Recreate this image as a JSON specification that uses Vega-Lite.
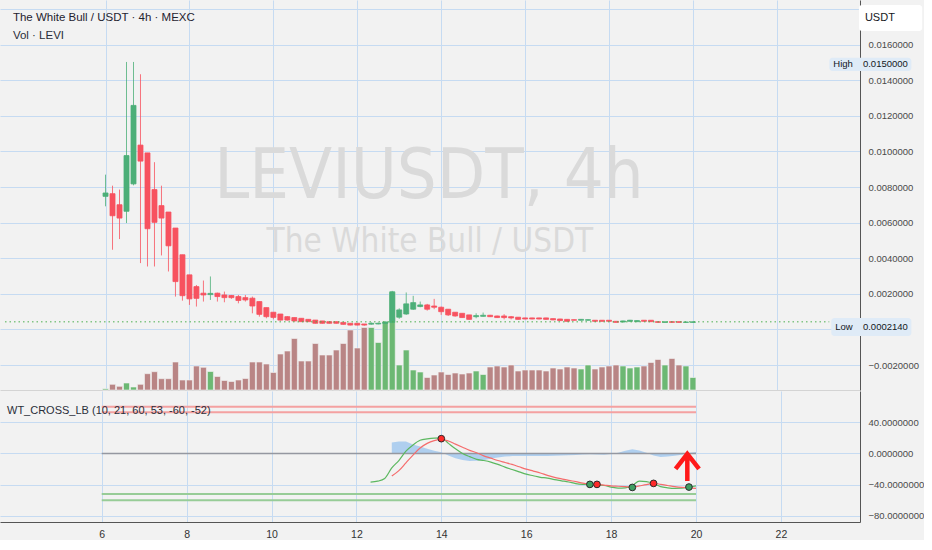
{
  "$schema": "https://vega.github.io/schema/vega-lite/v6.json",
  "padding": 0,
  "spacing": 0,
  "background": "#f2f2f2",
  "datasets": {
    "candles": [
      {"t":6,"o":0.00748,"h":0.0087,"l":0.00692,"c":0.00767,"v":1.2,"d":"up"},
      {"t":6.1667,"o":0.00763,"h":0.00808,"l":0.00448,"c":0.00639,"v":5.7,"d":"down"},
      {"t":6.3333,"o":0.00701,"h":0.00786,"l":0.00508,"c":0.00626,"v":3.7,"d":"down"},
      {"t":6.5,"o":0.00664,"h":0.01503,"l":0.00598,"c":0.00977,"v":7,"d":"up"},
      {"t":6.6667,"o":0.00818,"h":0.01503,"l":0.0081,"c":0.01259,"v":3,"d":"up"},
      {"t":6.8333,"o":0.01036,"h":0.01434,"l":0.00373,"c":0.00946,"v":5.7,"d":"down"},
      {"t":7,"o":0.00992,"h":0.00992,"l":0.00354,"c":0.00566,"v":16.3,"d":"down"},
      {"t":7.1667,"o":0.00786,"h":0.0094,"l":0.00354,"c":0.00602,"v":18.3,"d":"down"},
      {"t":7.3333,"o":0.00696,"h":0.00808,"l":0.00416,"c":0.00626,"v":11.3,"d":"down"},
      {"t":7.5,"o":0.0066,"h":0.0066,"l":0.00326,"c":0.0047,"v":11.3,"d":"down"},
      {"t":7.6667,"o":0.0057,"h":0.0057,"l":0.00185,"c":0.00269,"v":28,"d":"down"},
      {"t":7.8333,"o":0.0042,"h":0.0042,"l":0.00162,"c":0.0019,"v":10,"d":"down"},
      {"t":8,"o":0.00307,"h":0.00307,"l":0.00138,"c":0.00172,"v":10,"d":"down"},
      {"t":8.1667,"o":0.00241,"h":0.0025,"l":0.00129,"c":0.00175,"v":24,"d":"down"},
      {"t":8.3333,"o":0.00204,"h":0.00275,"l":0.00157,"c":0.00194,"v":22.7,"d":"down"},
      {"t":8.5,"o":0.00196,"h":0.00298,"l":0.00166,"c":0.00203,"v":18.5,"d":"up"},
      {"t":8.6667,"o":0.00204,"h":0.00207,"l":0.00157,"c":0.00185,"v":13.5,"d":"down"},
      {"t":8.8333,"o":0.00194,"h":0.00213,"l":0.00153,"c":0.00179,"v":9.5,"d":"down"},
      {"t":9,"o":0.00191,"h":0.00194,"l":0.00172,"c":0.00179,"v":8.5,"d":"down"},
      {"t":9.1667,"o":0.00185,"h":0.00194,"l":0.00147,"c":0.00163,"v":10,"d":"down"},
      {"t":9.3333,"o":0.00179,"h":0.00194,"l":0.00157,"c":0.00166,"v":11.5,"d":"down"},
      {"t":9.5,"o":0.00176,"h":0.00185,"l":0.00091,"c":0.00132,"v":28,"d":"down"},
      {"t":9.6667,"o":0.00157,"h":0.00157,"l":0.00072,"c":0.00085,"v":28,"d":"down"},
      {"t":9.8333,"o":0.00123,"h":0.00123,"l":0.00063,"c":0.00072,"v":26,"d":"down"},
      {"t":10,"o":0.00097,"h":0.00097,"l":0.00057,"c":0.00068,"v":17.5,"d":"down"},
      {"t":10.1667,"o":0.00087,"h":0.00087,"l":0.0005,"c":0.00053,"v":36,"d":"down"},
      {"t":10.3333,"o":0.00072,"h":0.00075,"l":0.0005,"c":0.00053,"v":39,"d":"down"},
      {"t":10.5,"o":0.00067,"h":0.00067,"l":0.00045,"c":0.00048,"v":51.5,"d":"down"},
      {"t":10.6667,"o":0.00063,"h":0.00063,"l":0.00042,"c":0.00044,"v":29,"d":"down"},
      {"t":10.8333,"o":0.00057,"h":0.00057,"l":0.00042,"c":0.00044,"v":29,"d":"down"},
      {"t":11,"o":0.00053,"h":0.00053,"l":0.00033,"c":0.00035,"v":46.5,"d":"down"},
      {"t":11.1667,"o":0.00048,"h":0.00048,"l":0.00033,"c":0.00035,"v":35,"d":"down"},
      {"t":11.3333,"o":0.00044,"h":0.00044,"l":0.00033,"c":0.00035,"v":35,"d":"down"},
      {"t":11.5,"o":0.00044,"h":0.00044,"l":0.00033,"c":0.00035,"v":40,"d":"down"},
      {"t":11.6667,"o":0.0004,"h":0.0004,"l":0.00027,"c":0.00029,"v":46.5,"d":"down"},
      {"t":11.8333,"o":0.00035,"h":0.00035,"l":0.00023,"c":0.00025,"v":60,"d":"down"},
      {"t":12,"o":0.00035,"h":0.00035,"l":0.00023,"c":0.00025,"v":42,"d":"down"},
      {"t":12.1667,"o":0.00031,"h":0.00031,"l":0.000214,"c":0.00025,"v":62.5,"d":"down"},
      {"t":12.3333,"o":0.0003,"h":0.0004,"l":0.00027,"c":0.00035,"v":62.5,"d":"up"},
      {"t":12.5,"o":0.00031,"h":0.00039,"l":0.00029,"c":0.00035,"v":47.5,"d":"up"},
      {"t":12.6667,"o":0.00034,"h":0.00045,"l":0.00032,"c":0.00042,"v":68.5,"d":"up"},
      {"t":12.8333,"o":0.0004,"h":0.00217,"l":0.00038,"c":0.00212,"v":97.5,"d":"up"},
      {"t":13,"o":0.00069,"h":0.00119,"l":0.0006,"c":0.0011,"v":25,"d":"up"},
      {"t":13.1667,"o":0.00087,"h":0.00208,"l":0.00082,"c":0.00144,"v":40,"d":"up"},
      {"t":13.3333,"o":0.00114,"h":0.00189,"l":0.0011,"c":0.00151,"v":20,"d":"up"},
      {"t":13.5,"o":0.00129,"h":0.00157,"l":0.00125,"c":0.00138,"v":18,"d":"up"},
      {"t":13.6667,"o":0.00138,"h":0.00144,"l":0.00106,"c":0.00114,"v":12.5,"d":"down"},
      {"t":13.8333,"o":0.00132,"h":0.00172,"l":0.00114,"c":0.00125,"v":15,"d":"down"},
      {"t":14,"o":0.00125,"h":0.00129,"l":0.00082,"c":0.001,"v":18,"d":"down"},
      {"t":14.1667,"o":0.00114,"h":0.00114,"l":0.00076,"c":0.00082,"v":15.5,"d":"down"},
      {"t":14.3333,"o":0.00097,"h":0.00097,"l":0.00072,"c":0.00076,"v":17,"d":"down"},
      {"t":14.5,"o":0.00091,"h":0.00091,"l":0.00065,"c":0.00067,"v":16,"d":"down"},
      {"t":14.6667,"o":0.00082,"h":0.00082,"l":0.00055,"c":0.00057,"v":17,"d":"down"},
      {"t":14.8333,"o":0.00072,"h":0.00091,"l":0.00063,"c":0.00078,"v":19,"d":"up"},
      {"t":15,"o":0.00074,"h":0.00095,"l":0.00072,"c":0.0008,"v":15.5,"d":"up"},
      {"t":15.1667,"o":0.0008,"h":0.00082,"l":0.0007,"c":0.00072,"v":23,"d":"down"},
      {"t":15.3333,"o":0.00076,"h":0.00078,"l":0.00065,"c":0.00067,"v":24,"d":"down"},
      {"t":15.5,"o":0.00076,"h":0.00086,"l":0.00057,"c":0.00067,"v":23,"d":"down"},
      {"t":15.6667,"o":0.00072,"h":0.00076,"l":0.00057,"c":0.00065,"v":25,"d":"down"},
      {"t":15.8333,"o":0.00069,"h":0.00069,"l":0.00055,"c":0.00057,"v":19,"d":"down"},
      {"t":16,"o":0.00065,"h":0.00066,"l":0.00057,"c":0.00059,"v":20,"d":"down"},
      {"t":16.1667,"o":0.00065,"h":0.00066,"l":0.00057,"c":0.00059,"v":20,"d":"down"},
      {"t":16.3333,"o":0.00065,"h":0.00066,"l":0.00057,"c":0.00059,"v":20,"d":"down"},
      {"t":16.5,"o":0.00065,"h":0.00066,"l":0.00055,"c":0.00057,"v":19,"d":"down"},
      {"t":16.6667,"o":0.00061,"h":0.00062,"l":0.00052,"c":0.00054,"v":22,"d":"down"},
      {"t":16.8333,"o":0.00059,"h":0.0006,"l":0.00048,"c":0.0005,"v":21,"d":"down"},
      {"t":17,"o":0.00057,"h":0.00058,"l":0.00044,"c":0.00046,"v":23,"d":"down"},
      {"t":17.1667,"o":0.00055,"h":0.00057,"l":0.0005,"c":0.00052,"v":22,"d":"down"},
      {"t":17.3333,"o":0.00052,"h":0.00059,"l":0.0005,"c":0.00057,"v":21,"d":"up"},
      {"t":17.5,"o":0.00052,"h":0.00057,"l":0.0005,"c":0.00055,"v":25,"d":"up"},
      {"t":17.6667,"o":0.00052,"h":0.00053,"l":0.00044,"c":0.00046,"v":21,"d":"down"},
      {"t":17.8333,"o":0.00052,"h":0.00053,"l":0.00044,"c":0.00046,"v":23,"d":"down"},
      {"t":18,"o":0.00052,"h":0.00053,"l":0.00044,"c":0.00046,"v":24,"d":"down"},
      {"t":18.1667,"o":0.00046,"h":0.00047,"l":0.00038,"c":0.0004,"v":25,"d":"down"},
      {"t":18.3333,"o":0.00042,"h":0.0005,"l":0.0004,"c":0.00048,"v":24,"d":"up"},
      {"t":18.5,"o":0.00046,"h":0.00054,"l":0.00044,"c":0.00052,"v":22,"d":"up"},
      {"t":18.6667,"o":0.00044,"h":0.00052,"l":0.00042,"c":0.0005,"v":23,"d":"up"},
      {"t":18.8333,"o":0.00052,"h":0.00053,"l":0.00044,"c":0.00046,"v":24,"d":"down"},
      {"t":19,"o":0.00052,"h":0.00053,"l":0.00042,"c":0.00044,"v":27.5,"d":"down"},
      {"t":19.1667,"o":0.00044,"h":0.00045,"l":0.00038,"c":0.0004,"v":30.5,"d":"down"},
      {"t":19.3333,"o":0.0004,"h":0.00045,"l":0.00038,"c":0.00043,"v":25,"d":"up"},
      {"t":19.5,"o":0.00044,"h":0.00045,"l":0.00038,"c":0.0004,"v":31.5,"d":"down"},
      {"t":19.6667,"o":0.00044,"h":0.00045,"l":0.00038,"c":0.0004,"v":25,"d":"down"},
      {"t":19.8333,"o":0.0004,"h":0.00044,"l":0.00038,"c":0.00042,"v":24,"d":"up"},
      {"t":20,"o":0.0004,"h":0.00045,"l":0.00038,"c":0.00043,"v":12.5,"d":"up"}
    ],
    "osc": [
      {"t":12.3333,"w1":-36.6},
      {"t":12.5,"w1":-35.5},
      {"t":12.6667,"w1":-32},
      {"t":12.8333,"w1":-18.5,"w2":-28.9,"a":14},
      {"t":13,"w1":-9,"w2":-22,"a":15.5},
      {"t":13.1667,"w1":3,"w2":-12,"a":15.5},
      {"t":13.3333,"w1":11,"w2":-2,"a":11.5},
      {"t":13.5,"w1":16.9,"w2":7,"a":9},
      {"t":13.6667,"w1":18.8,"w2":13,"a":6},
      {"t":13.8333,"w1":19.8,"w2":16.5,"a":3.5},
      {"t":14,"w1":20,"w2":18.1,"a":1.5},
      {"t":14.1667,"w1":13,"w2":16,"a":-2.5},
      {"t":14.3333,"w1":6,"w2":12,"a":-6},
      {"t":14.5,"w1":0,"w2":8,"a":-8.4},
      {"t":14.6667,"w1":-4,"w2":4,"a":-9.6},
      {"t":14.8333,"w1":-7.5,"w2":1,"a":-9.4},
      {"t":15,"w1":-9,"w2":-3,"a":-8.5},
      {"t":15.1667,"w1":-11,"w2":-6,"a":-6.5},
      {"t":15.3333,"w1":-14,"w2":-9,"a":-5},
      {"t":15.5,"w1":-17.5,"w2":-11.5,"a":-4},
      {"t":15.6667,"w1":-20.5,"w2":-14,"a":-3.3},
      {"t":15.8333,"w1":-23.5,"w2":-17,"a":-3.2},
      {"t":16,"w1":-26.5,"w2":-20,"a":-3.2},
      {"t":16.1667,"w1":-28.5,"w2":-22.5,"a":-3.2},
      {"t":16.3333,"w1":-30.5,"w2":-25,"a":-3.2},
      {"t":16.5,"w1":-31.5,"w2":-28,"a":-3.2},
      {"t":16.6667,"w1":-33.5,"w2":-30.5,"a":-3},
      {"t":16.8333,"w1":-35,"w2":-32.5,"a":-2.6},
      {"t":17,"w1":-36.5,"w2":-34.5,"a":-2.4},
      {"t":17.1667,"w1":-38.5,"w2":-36,"a":-2},
      {"t":17.3333,"w1":-39.5,"w2":-38,"a":-1.4},
      {"t":17.5,"w1":-39.8,"w2":-39.3,"a":-1},
      {"t":17.6667,"w1":-40.5,"w2":-39.6,"a":-1.2},
      {"t":17.8333,"w1":-41,"w2":-40.5,"a":-1.5},
      {"t":18,"w1":-43,"w2":-41.5,"a":-0.5},
      {"t":18.1667,"w1":-44.5,"w2":-42,"a":1},
      {"t":18.3333,"w1":-44,"w2":-42.5,"a":3.5},
      {"t":18.5,"w1":-41,"w2":-43,"a":5.5},
      {"t":18.6667,"w1":-35.5,"w2":-41.5,"a":4},
      {"t":18.8333,"w1":-36,"w2":-40,"a":1},
      {"t":19,"w1":-38.5,"w2":-38.3,"a":-2.5},
      {"t":19.1667,"w1":-42.5,"w2":-39.5,"a":-4.5},
      {"t":19.3333,"w1":-44,"w2":-41,"a":-4},
      {"t":19.5,"w1":-44.7,"w2":-42.5,"a":-3},
      {"t":19.6667,"w1":-44.5,"w2":-43.5,"a":-1.5},
      {"t":19.8333,"w1":-43,"w2":-44,"a":0.5},
      {"t":20,"w1":-41.5,"w2":-44.7,"a":2}
    ]
  },
  "vconcat": [
    {
      "width": 860,
      "height": 390,
      "layer": [
        {
          "data": {"name": "candles"},
          "mark": {"type": "bar", "size": 6, "stroke": "#f4f4f4", "strokeWidth": 0.6},
          "encoding": {
            "x": {"field": "t", "type": "quantitative", "scale": {"domain": [3.604, 23.863], "nice": false, "zero": false},
                  "axis": {"values": [6,8,10,12,14,16,18,20,22], "tickCount": 30, "labels": false, "grid": true, "domain": true, "domainColor": "#d4d4d4"}},
            "y": {"field": "v", "type": "quantitative", "scale": {"domain": [0, 390], "nice": false}, "axis": null},
            "fill": {"condition": {"test": "datum.d == 'up'", "value": "#6cb873"}, "value": "#b98585"}
          }
        },
        {
          "layer": [
            {
              "data": {"name": "candles"},
              "mark": {"type": "rule", "strokeWidth": 1, "opacity": 0.8},
              "encoding": {
                "x": {"field": "t", "type": "quantitative", "scale": {"domain": [3.604, 23.863], "nice": false, "zero": false}},
                "y": {"field": "l", "type": "quantitative", "scale": {"domain": [-0.003399, 0.018511], "nice": false, "zero": false},
                      "axis": {"orient": "right", "values": [-0.002,0,0.002,0.004,0.006,0.008,0.01,0.012,0.014,0.016,0.018], "tickCount": 30,
                               "labelExpr": "datum.value > 0.017 || abs(datum.value) < 0.0001 ? '' : format(datum.value, '.7f')",
                               "grid": true, "domain": true, "labelOverlap": false, "labelFlush": false}},
                "y2": {"field": "h"},
                "stroke": {"condition": {"test": "datum.d == 'up'", "value": "#4caf78"}, "value": "#f7525f"}
              }
            },
            {
              "data": {"name": "candles"},
              "mark": {"type": "bar", "size": 5, "strokeWidth": 0.8},
              "encoding": {
                "x": {"field": "t", "type": "quantitative", "scale": {"domain": [3.604, 23.863], "nice": false, "zero": false}},
                "y": {"field": "o", "type": "quantitative", "scale": {"domain": [-0.003399, 0.018511], "nice": false, "zero": false}},
                "y2": {"field": "c"},
                "fill": {"condition": {"test": "datum.d == 'up'", "value": "#4caf78"}, "value": "#f7525f"},
                "stroke": {"condition": {"test": "datum.d == 'up'", "value": "#4caf78"}, "value": "#f7525f"}
              }
            },
            {
              "data": {"values": [{"t1": 3.604, "t2": 23.25, "p": 0.00043}]},
              "mark": {"type": "rule", "stroke": "#4caf50", "strokeDash": [1.5, 3], "strokeWidth": 1},
              "encoding": {
                "x": {"field": "t1", "type": "quantitative", "scale": {"domain": [3.604, 23.863], "nice": false, "zero": false}},
                "x2": {"field": "t2"},
                "y": {"field": "p", "type": "quantitative", "scale": {"domain": [-0.003399, 0.018511], "nice": false, "zero": false}}
              }
            },
            {
              "data": {"values": [{"t": 13.71, "p": 0.007388, "txt": "LEVIUSDT, 4h"}]},
              "mark": {"type": "text", "align": "center", "baseline": "alphabetic", "fontSize": 70, "font": "Liberation Sans Narrow, DejaVu Sans Condensed, Liberation Sans", "color": "#dadada"},
              "encoding": {
                "x": {"field": "t", "type": "quantitative"},
                "y": {"field": "p", "type": "quantitative"},
                "text": {"field": "txt"}
              }
            },
            {
              "data": {"values": [{"t": 13.73, "p": 0.004354, "txt": "The White Bull / USDT"}]},
              "mark": {"type": "text", "align": "center", "baseline": "alphabetic", "fontSize": 33, "font": "Liberation Sans Narrow, DejaVu Sans Condensed, Liberation Sans", "color": "#dadada"},
              "encoding": {
                "x": {"field": "t", "type": "quantitative"},
                "y": {"field": "p", "type": "quantitative"},
                "text": {"field": "txt"}
              }
            },
            {
              "data": {"values": [{"t": 3.792, "p": 0.017331, "txt": "The White Bull / USDT · 4h · MEXC"}]},
              "mark": {"type": "text", "align": "left", "baseline": "alphabetic", "fontSize": 11.5, "fontWeight": 500, "color": "#1f2330"},
              "encoding": {
                "x": {"field": "t", "type": "quantitative"},
                "y": {"field": "p", "type": "quantitative"},
                "text": {"field": "txt"}
              }
            },
            {
              "data": {"values": [{"t": 3.792, "p": 0.016292, "txt": "Vol · LEVI"}]},
              "mark": {"type": "text", "align": "left", "baseline": "alphabetic", "fontSize": 11.5, "color": "#2a2e39"},
              "encoding": {
                "x": {"field": "t", "type": "quantitative"},
                "y": {"field": "p", "type": "quantitative"},
                "text": {"field": "txt"}
              }
            },
            {
              "data": {"values": [
                {"t1": 23.957, "t2": 25.465, "p1": 0.01677, "p2": 0.01823, "k": "usdt"},
                {"t1": 23.251, "t2": 25.206, "p1": 0.014522, "p2": 0.01527, "k": "hl"},
                {"t1": 23.298, "t2": 25.206, "p1": -0.000365, "p2": 0.000646, "k": "hl"}
              ]},
              "mark": {"type": "rect", "cornerRadius": 3},
              "encoding": {
                "x": {"field": "t1", "type": "quantitative"},
                "x2": {"field": "t2"},
                "y": {"field": "p1", "type": "quantitative"},
                "y2": {"field": "p2"},
                "fill": {"condition": {"test": "datum.k == 'usdt'", "value": "#ffffff"}, "value": "#dfebf7"}
              }
            },
            {
              "data": {"values": [
                {"t": 24.099, "p": 0.0175, "txt": "USDT"}
              ]},
              "mark": {"type": "text", "align": "left", "baseline": "middle", "fontSize": 11, "color": "#131722"},
              "encoding": {
                "x": {"field": "t", "type": "quantitative"},
                "y": {"field": "p", "type": "quantitative"},
                "text": {"field": "txt"}
              }
            },
            {
              "data": {"values": [
                {"t": 23.345, "p": 0.014888, "txt": "High"},
                {"t": 23.392, "p": 0.00014, "txt": "Low"},
                {"t": 24.052, "p": 0.014888, "txt": "0.0150000"},
                {"t": 24.052, "p": 0.00014, "txt": "0.0002140"}
              ]},
              "mark": {"type": "text", "align": "left", "baseline": "middle", "fontSize": 9.5, "color": "#131722"},
              "encoding": {
                "x": {"field": "t", "type": "quantitative"},
                "y": {"field": "p", "type": "quantitative"},
                "text": {"field": "txt"}
              }
            }
          ]
        }
      ],
      "resolve": {"scale": {"y": "independent"}, "axis": {"y": "independent"}}
    },
    {
      "width": 860,
      "height": 131,
      "layer": [
        {
          "data": {"name": "osc"},
          "mark": {"type": "area", "color": "#a3c9ef", "opacity": 0.85},
          "encoding": {
            "x": {"field": "t", "type": "quantitative", "scale": {"domain": [3.604, 23.863], "nice": false, "zero": false},
                  "axis": {"values": [6,8,10,12,14,16,18,20,22], "tickCount": 30, "format": "d", "grid": true, "labelPadding": 7, "labelFontSize": 10.5, "labelColor": "#333333", "labelFlush": false}},
            "y": {"field": "a", "type": "quantitative", "scale": {"domain": [-87.8, 80.1], "nice": false, "zero": false},
                  "axis": {"orient": "right", "values": [-80,-40,0,40], "tickCount": 30, "format": ".7f", "grid": true, "labelFlush": false, "labelOverlap": false}},
            "y2": {"datum": 0}
          }
        },
        {
          "data": {"values": [{"t1": 6, "t2": 20, "lv": 0}]},
          "mark": {"type": "rule", "stroke": "#9598a1", "strokeWidth": 1.5},
          "encoding": {
            "x": {"field": "t1", "type": "quantitative"},
            "x2": {"field": "t2"},
            "y": {"field": "lv", "type": "quantitative"}
          }
        },
        {
          "data": {"values": [{"t1": 6, "t2": 20, "lv": 60}, {"t1": 6, "t2": 20, "lv": 53}]},
          "mark": {"type": "rule", "stroke": "#f4a1a1", "strokeWidth": 2},
          "encoding": {
            "x": {"field": "t1", "type": "quantitative"},
            "x2": {"field": "t2"},
            "y": {"field": "lv", "type": "quantitative"}
          }
        },
        {
          "data": {"values": [{"t1": 6, "t2": 20, "lv": -52}, {"t1": 6, "t2": 20, "lv": -60}]},
          "mark": {"type": "rule", "stroke": "#97cc97", "strokeWidth": 2},
          "encoding": {
            "x": {"field": "t1", "type": "quantitative"},
            "x2": {"field": "t2"},
            "y": {"field": "lv", "type": "quantitative"}
          }
        },
        {
          "data": {"name": "osc"},
          "mark": {"type": "line", "stroke": "#5cb860", "strokeWidth": 1.2, "interpolate": "monotone"},
          "encoding": {
            "x": {"field": "t", "type": "quantitative"},
            "y": {"field": "w1", "type": "quantitative"}
          }
        },
        {
          "data": {"name": "osc"},
          "mark": {"type": "line", "stroke": "#f56c6c", "strokeWidth": 1.2, "interpolate": "monotone"},
          "encoding": {
            "x": {"field": "t", "type": "quantitative"},
            "y": {"field": "w2", "type": "quantitative"}
          }
        },
        {
          "data": {"values": [
            {"t": 14, "v": 19, "k": "r"},
            {"t": 17.5, "v": -39.6, "k": "g"},
            {"t": 17.6667, "v": -39.6, "k": "r"},
            {"t": 18.5, "v": -43.5, "k": "g"},
            {"t": 19, "v": -38.3, "k": "r"},
            {"t": 19.8333, "v": -43, "k": "g"}
          ]},
          "mark": {"type": "point", "filled": true, "size": 45, "stroke": "#2b2b2b", "strokeWidth": 1, "opacity": 1},
          "encoding": {
            "x": {"field": "t", "type": "quantitative"},
            "y": {"field": "v", "type": "quantitative"},
            "fill": {"condition": {"test": "datum.k == 'r'", "value": "#ff2a2a"}, "value": "#3f9f62"}
          }
        },
        {
          "data": {"values": [{"t": 19.795, "v": -17.9}]},
          "mark": {"type": "point", "shape": "M0,1L0,-0.9M-0.87,0.11L0,-1L0.87,0.11", "size": 729, "filled": false, "stroke": "#ff1a1a", "strokeWidth": 4.5, "strokeJoin": "miter", "opacity": 1},
          "encoding": {
            "x": {"field": "t", "type": "quantitative"},
            "y": {"field": "v", "type": "quantitative"}
          }
        },
        {
          "data": {"values": [{"t": 3.769, "v": 51, "txt": "WT_CROSS_LB (10, 21, 60, 53, -60, -52)"}]},
          "mark": {"type": "text", "align": "left", "baseline": "alphabetic", "fontSize": 11, "color": "#2a2e39"},
          "encoding": {
            "x": {"field": "t", "type": "quantitative"},
            "y": {"field": "v", "type": "quantitative"},
            "text": {"field": "txt"}
          }
        }
      ]
    }
  ],
  "config": {
    "background": "#f2f2f2",
    "view": {"stroke": null, "fill": "#f2f2f2"},
    "axis": {
      "labelFont": "Liberation Sans",
      "labelFontSize": 9.5,
      "labelColor": "#4a4a4a",
      "gridColor": "#c6dbf2",
      "gridWidth": 1,
      "domainColor": "#555555",
      "domainWidth": 1,
      "ticks": false,
      "tickSize": 0,
      "labelPadding": 8,
      "title": null
    },
    "text": {"font": "Liberation Sans"}
  }
}
